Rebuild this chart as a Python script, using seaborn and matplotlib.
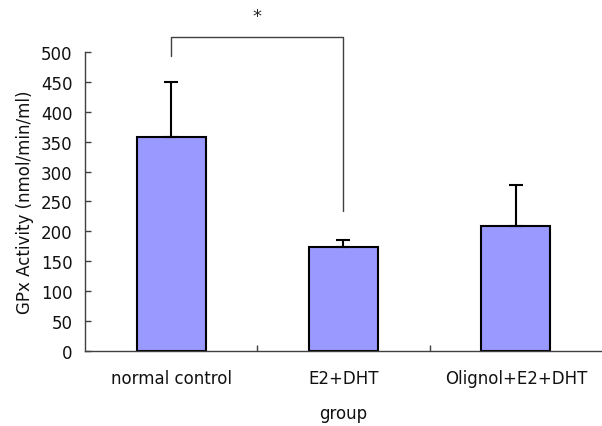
import numpy as np
import pandas as pd
import matplotlib
matplotlib.use("Agg")
import matplotlib.pyplot as plt
import seaborn as sns
from matplotlib.ticker import FixedLocator

groups = ["normal control", "E2+DHT", "Olignol+E2+DHT"]
gpx_mean = [358, 173, 209]
gpx_err = [91, 12, 69]

df = pd.DataFrame({"group": groups, "gpx": gpx_mean})

sns.set_style("white")
plt.rcParams["font.family"] = ["DejaVu Sans"]

fig = plt.figure(figsize=(6.02, 4.27), dpi=100)
ax = fig.add_axes([0.141, 0.176, 0.859, 0.700])

sns.barplot(data=df, x="group", y="gpx", color="#9999FF", width=0.4,
            edgecolor="black", linewidth=1.5, saturation=1, ax=ax)
ax.errorbar(np.arange(len(groups)), gpx_mean,
            yerr=[np.zeros(len(groups)), gpx_err],
            fmt="none", ecolor="black", elinewidth=1.5, capsize=4.7, capthick=1.5)

ax.set_xlim(-0.5, 2.5)
ax.set_ylim(0, 500)
ax.set_yticks(range(0, 501, 50))
ax.tick_params(axis="y", direction="in", length=4, width=1, color="#404040",
               labelsize=12, left=True, pad=9, labelcolor="#111111")
ax.tick_params(axis="x", which="major", length=0, labelsize=12, pad=13,
               labelcolor="#111111")
ax.xaxis.set_minor_locator(FixedLocator([0.5, 1.5]))
ax.tick_params(axis="x", which="minor", direction="in", length=4, width=1,
               color="#404040", bottom=True)

for s in ["top", "right"]:
    ax.spines[s].set_visible(False)
for s in ["left", "bottom"]:
    ax.spines[s].set_color("#404040")
    ax.spines[s].set_linewidth(1)

ax.set_xlabel("group", fontsize=12, labelpad=12, color="#111111")
ax.set_ylabel("GPx Activity (nmol/min/ml)", fontsize=12, labelpad=5, color="#111111")

# significance bracket
ax.plot([0, 0, 1, 1], [493, 525, 525, 234], color="#404040", lw=1, clip_on=False)
ax.text(0.5, 560, "*", ha="center", va="center", fontsize=13, clip_on=False)

fig.savefig("out.png", dpi=100)
